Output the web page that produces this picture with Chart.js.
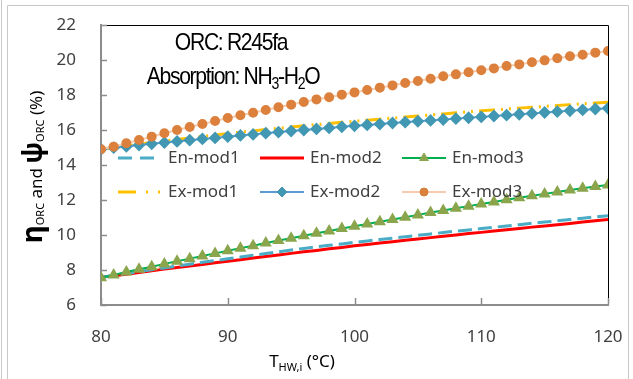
<!DOCTYPE html>
<html>
<head>
<meta charset="utf-8">
<script src="https://cdn.jsdelivr.net/npm/chart.js@4.4.1/dist/chart.umd.min.js"></script>
<style>
  html, body { margin: 0; padding: 0; background: #fff; }
  #wrap { width: 633px; height: 379px; }
</style>
</head>
<body>
<div id="wrap"><canvas id="grafico"></canvas></div>
<script>
// temperatura de entrada da agua quente (°C)
const temps = [80, 81, 82, 83, 84, 85, 86, 87, 88, 89, 90, 91, 92, 93, 94, 95, 96, 97, 98, 99, 100,
               101, 102, 103, 104, 105, 106, 107, 108, 109, 110, 111, 112, 113, 114, 115, 116, 117, 118, 119, 120];

const en_mod1 = [7.58, 7.69, 7.80, 7.91, 8.02, 8.12, 8.23, 8.33, 8.44, 8.54, 8.64, 8.74, 8.84, 8.94, 9.04, 9.14, 9.23, 9.32, 9.41, 9.49, 9.58,
                 9.66, 9.74, 9.82, 9.90, 9.98, 10.06, 10.14, 10.22, 10.29, 10.37, 10.44, 10.52, 10.59, 10.67, 10.74, 10.81, 10.88, 10.96, 11.03, 11.10];
const en_mod2 = [7.58, 7.67, 7.76, 7.86, 7.95, 8.05, 8.14, 8.23, 8.32, 8.41, 8.50, 8.59, 8.68, 8.77, 8.86, 8.95, 9.04, 9.12, 9.21, 9.29, 9.38,
                 9.46, 9.54, 9.62, 9.70, 9.77, 9.85, 9.93, 10.00, 10.08, 10.15, 10.23, 10.30, 10.37, 10.45, 10.52, 10.59, 10.66, 10.74, 10.81, 10.88];
const en_mod3 = [7.56, 7.72, 7.88, 8.04, 8.19, 8.35, 8.50, 8.65, 8.80, 8.95, 9.10, 9.25, 9.39, 9.54, 9.68, 9.82, 9.96, 10.10, 10.23, 10.37, 10.50,
                 10.63, 10.76, 10.89, 11.02, 11.15, 11.28, 11.40, 11.53, 11.65, 11.77, 11.89, 12.01, 12.13, 12.24, 12.35, 12.46, 12.57, 12.67, 12.77, 12.86];
const ex_mod1 = [14.90, 15.00, 15.10, 15.19, 15.28, 15.37, 15.46, 15.55, 15.63, 15.72, 15.80, 15.88, 15.95, 16.03, 16.10, 16.17, 16.24, 16.31, 16.37, 16.44, 16.50,
                 16.56, 16.62, 16.68, 16.74, 16.80, 16.86, 16.92, 16.98, 17.04, 17.10, 17.15, 17.20, 17.25, 17.30, 17.35, 17.40, 17.45, 17.50, 17.54, 17.58];
const ex_mod2 = [14.90, 14.99, 15.06, 15.14, 15.21, 15.28, 15.35, 15.42, 15.49, 15.55, 15.62, 15.69, 15.75, 15.82, 15.88, 15.94, 16.00, 16.06, 16.12, 16.18, 16.24,
                 16.29, 16.34, 16.40, 16.45, 16.50, 16.55, 16.60, 16.65, 16.70, 16.75, 16.80, 16.85, 16.90, 16.95, 17.00, 17.05, 17.10, 17.15, 17.20, 17.24];
const ex_mod3 = [14.90, 15.05, 15.24, 15.43, 15.62, 15.81, 16.00, 16.17, 16.34, 16.51, 16.69, 16.84, 16.99, 17.14, 17.30, 17.45, 17.60, 17.75, 17.87, 18.02, 18.15,
                 18.29, 18.42, 18.55, 18.69, 18.80, 18.93, 19.07, 19.18, 19.30, 19.41, 19.52, 19.66, 19.75, 19.87, 19.98, 20.10, 20.21, 20.30, 20.42, 20.51];

const xTicks = [80, 90, 100, 110, 120];
const yTicks = [6, 8, 10, 12, 14, 16, 18, 20, 22];

const FONTE = "'Noto Sans', 'Open Sans', sans-serif";
const FONTE_NOTA = "'Liberation Sans', Arial, sans-serif";

function pares(arr) {
    return temps.map((t, i) => ({ x: t, y: arr[i] }));
}

// legenda desenhada dentro da area do grafico (3 colunas x 2 linhas)
const legendaPos = [
    { x: 118, y: 158 }, { x: 260, y: 158 }, { x: 402, y: 158 },
    { x: 118, y: 192 }, { x: 260, y: 192 }, { x: 402, y: 192 }
];

function escreverPartes(ctx, partes, cx, y, cor, espaco) {
    ctx.save();
    if (cor) ctx.fillStyle = cor;
    ctx.textAlign = 'left';
    ctx.textBaseline = 'alphabetic';
    ctx.letterSpacing = (espaco || 0) + 'px';
    let total = 0;
    partes.forEach(p => {
        ctx.font = (p.b ? 'bold ' : '') + p.f + 'px ' + (p.fam || FONTE);
        p.w = ctx.measureText(p.t).width;
        total += p.w;
    });
    let x = cx - total / 2;
    partes.forEach(p => {
        ctx.font = (p.b ? 'bold ' : '') + p.f + 'px ' + (p.fam || FONTE);
        ctx.fillText(p.t, x, y + p.dy);
        x += p.w;
    });
    ctx.restore();
}

const molduraPlugin = {
    id: 'moldura',
    beforeDraw(chart) {
        const ctx = chart.ctx;
        ctx.save();
        ctx.fillStyle = '#fff';
        ctx.fillRect(0, 0, chart.width, chart.height);
        ctx.strokeStyle = '#c8c8c8';
        ctx.lineWidth = 1;
        ctx.beginPath();
        ctx.moveTo(1.5, 0); ctx.lineTo(1.5, chart.height);
        ctx.moveTo(7.5, chart.height); ctx.lineTo(7.5, 5.5); ctx.lineTo(628.5, 5.5); ctx.lineTo(628.5, chart.height);
        ctx.stroke();
        ctx.restore();
    },
    afterDraw(chart) {
        const ctx = chart.ctx;
        const a = chart.chartArea;
        const xs = chart.scales.x, ys = chart.scales.y;
        ctx.save();

        // borda superior e direita
        ctx.strokeStyle = '#000';
        ctx.lineWidth = 1;
        ctx.beginPath();
        ctx.moveTo(a.left, a.top + 0.5); ctx.lineTo(a.right + 0.5, a.top + 0.5); ctx.lineTo(a.right + 0.5, a.bottom);
        ctx.stroke();

        // marcas para dentro
        ctx.strokeStyle = '#8c8c8c';
        ctx.lineWidth = 1.5;
        ctx.beginPath();
        yTicks.forEach(v => {
            const py = Math.round(ys.getPixelForValue(v)) + 0.5;
            ctx.moveTo(a.left, py); ctx.lineTo(a.left + 6, py);
        });
        xTicks.forEach(v => {
            const px = Math.round(xs.getPixelForValue(v)) + 0.5;
            ctx.moveTo(px, a.bottom); ctx.lineTo(px, a.bottom - 7);
        });
        ctx.stroke();

        // rotulos dos eixos
        ctx.fillStyle = '#404040';
        ctx.font = '17px ' + FONTE;
        ctx.textBaseline = 'middle';
        ctx.textAlign = 'right';
        yTicks.forEach(v => ctx.fillText(String(v), 76, ys.getPixelForValue(v)));
        ctx.textAlign = 'center';
        xTicks.forEach(v => ctx.fillText(String(v), xs.getPixelForValue(v), 337));

        // legenda
        ctx.font = '17px ' + FONTE;
        ctx.textBaseline = 'middle';
        ctx.textAlign = 'left';
        chart.data.datasets.forEach((ds, i) => {
            const p = legendaPos[i];
            ctx.save();
            ctx.strokeStyle = ds.borderColor;
            ctx.lineWidth = ds.borderWidth;
            ctx.setLineDash(ds.legendDash || []);
            ctx.beginPath();
            ctx.moveTo(p.x, p.y); ctx.lineTo(p.x + 44, p.y);
            ctx.stroke();
            ctx.restore();
            if (ds.pointRadius > 0) {
                ctx.save();
                ctx.fillStyle = ds.pointBackgroundColor;
                ctx.strokeStyle = ds.pointBorderColor;
                ctx.lineWidth = 1;
                Chart.helpers.drawPoint(ctx, {
                    pointStyle: ds.pointStyle,
                    radius: ds.pointRadius,
                    rotation: 0,
                    borderWidth: 1
                }, p.x + 22, p.y);
                ctx.restore();
            }
            ctx.fillStyle = '#404040';
            ctx.fillText(ds.label, p.x + 50, p.y);
        });

        // anotacoes (fonte condensada)
        ctx.save();
        ctx.translate(231, 50);
        ctx.scale(0.88, 1);
        escreverPartes(ctx, [{ t: 'ORC: R245fa', f: 24, dy: 0, fam: FONTE_NOTA }], 0, 0, '#000', -1.5);
        ctx.restore();
        ctx.save();
        ctx.translate(233, 84);
        ctx.scale(0.88, 1);
        escreverPartes(ctx, [
            { t: 'Absorption: NH', f: 24, dy: 0, fam: FONTE_NOTA },
            { t: '3', f: 16, dy: 5, fam: FONTE_NOTA },
            { t: '-H', f: 24, dy: 0, fam: FONTE_NOTA },
            { t: '2', f: 16, dy: 5, fam: FONTE_NOTA },
            { t: 'O', f: 24, dy: 0, fam: FONTE_NOTA }
        ], 0, 0, '#000', -1.5);
        ctx.restore();

        // titulo do eixo x
        escreverPartes(ctx, [
            { t: 'T', f: 17, dy: 0 },
            { t: 'HW,i', f: 11, dy: 4 },
            { t: ' (°C)', f: 17, dy: 0 }
        ], 302, 367, '#000');

        // titulo do eixo y
        ctx.save();
        ctx.translate(42, 167);
        ctx.rotate(-Math.PI / 2);
        escreverPartes(ctx, [
            { t: 'η', f: 28, dy: 0, b: true },
            { t: 'ORC', f: 11, dy: 2 },
            { t: ' and ', f: 17, dy: 0 },
            { t: 'ψ', f: 26, dy: 0, b: true },
            { t: 'ORC', f: 11, dy: 2 },
            { t: ' (%)', f: 17, dy: 0 }
        ], 0, 0, '#000');
        ctx.restore();

        ctx.restore();
    }
};

const ctx = document.querySelector('#grafico').getContext('2d');

new Chart(ctx, {
    type: 'line',
    data: {
        datasets: [
            {
                label: 'En-mod1',
                data: pares(en_mod1),
                borderColor: '#4BACC6',
                borderWidth: 3,
                borderDash: [14, 6],
                legendDash: [14, 8],
                pointRadius: 0,
                order: 4
            },
            {
                label: 'En-mod2',
                data: pares(en_mod2),
                borderColor: '#FF0000',
                borderWidth: 3,
                pointRadius: 0,
                order: 5
            },
            {
                label: 'En-mod3',
                data: pares(en_mod3),
                borderColor: '#00B050',
                borderWidth: 2,
                pointStyle: 'triangle',
                pointRadius: 5,
                pointBackgroundColor: '#8BA54C',
                pointBorderColor: '#8BA54C',
                order: 3
            },
            {
                label: 'Ex-mod1',
                data: pares(ex_mod1),
                borderColor: '#FFC000',
                borderWidth: 3,
                borderDash: [16, 6, 2, 6, 2, 6],
                legendDash: [18, 10, 2, 10, 2, 10],
                pointRadius: 0,
                order: 2
            },
            {
                label: 'Ex-mod2',
                data: pares(ex_mod2),
                borderColor: '#5B9BD5',
                borderWidth: 2,
                pointStyle: 'rectRot',
                pointRadius: 5,
                pointBackgroundColor: '#4298B3',
                pointBorderColor: '#4298B3',
                order: 1
            },
            {
                label: 'Ex-mod3',
                data: pares(ex_mod3),
                borderColor: '#F8CBAD',
                borderWidth: 2,
                pointStyle: 'circle',
                pointRadius: 4,
                pointBackgroundColor: '#DC803D',
                pointBorderColor: '#DC803D',
                order: 0
            }
        ]
    },
    options: {
        responsive: true,
        maintainAspectRatio: false,
        animation: false,
        layout: {
            padding: { left: 0, right: 25, top: 25, bottom: 0 }
        },
        plugins: {
            legend: { display: false },
            title: { display: false },
            tooltip: { enabled: false }
        },
        scales: {
            x: {
                type: 'linear',
                min: 80,
                max: 120,
                afterFit(scale) { scale.height = 74; },
                afterBuildTicks(scale) { scale.ticks = xTicks.map(v => ({ value: v })); },
                grid: { display: false, drawTicks: false },
                border: { display: true, color: '#8c8c8c', width: 2 },
                ticks: { display: false }
            },
            y: {
                min: 6,
                max: 22,
                afterFit(scale) { scale.width = 101; },
                afterBuildTicks(scale) { scale.ticks = yTicks.map(v => ({ value: v })); },
                grid: { display: false, drawTicks: false },
                border: { display: true, color: '#8c8c8c', width: 2 },
                ticks: { display: false }
            }
        }
    },
    plugins: [molduraPlugin]
});
</script>
</body>
</html>
